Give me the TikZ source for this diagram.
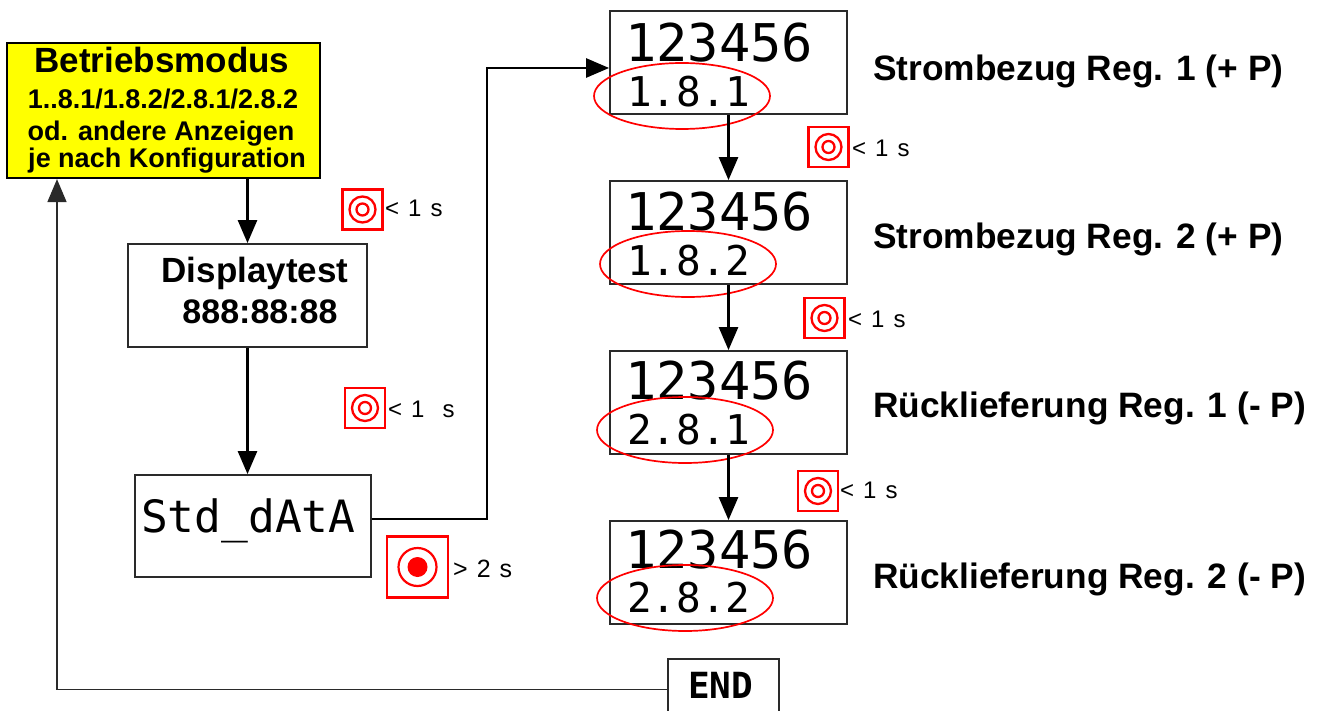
\documentclass[tikz,border=0pt]{standalone}
\usepackage{fontspec}
\setmainfont{Liberation Sans}
\newfontfamily\dmono{DejaVu Sans Mono}
\usetikzlibrary{arrows.meta,calc}
\definecolor{boxgray}{HTML}{2A2A2A}
\definecolor{ylw}{HTML}{FFFF00}
\newcommand{\gp}{\hspace{9pt}}
\begin{document}
\begin{tikzpicture}[x=1pt,y=-1pt,
  frame/.style={draw=boxgray, line width=1.8pt, rectangle, inner sep=0pt},
  txt/.style={inner sep=0pt, anchor=base},
  conn/.style={line width=2.6pt, draw=black},
  arr/.style={conn, -{Triangle[length=23pt,width=19pt]}},
  thinarr/.style={line width=1.6pt, draw=boxgray, -{Triangle[length=23pt,width=19pt]}},
  btn/.style={draw=red, line width=2.8pt, minimum size=40pt, inner sep=0pt,
    path picture={\draw[red,line width=2.3pt] (path picture bounding box.center) circle[radius=13pt] circle[radius=6pt];}},
  bigbtn/.style={draw=red, line width=2.8pt, minimum size=61pt, inner sep=0pt,
    path picture={\draw[red,line width=2.2pt] (path picture bounding box.center) circle[radius=19pt];
      \fill[red] (path picture bounding box.center) circle[radius=10pt];}},
  btntxt/.style={inner sep=0pt, anchor=base west, font=\fontsize{24}{28}\selectfont},
  lbl/.style={inner sep=0pt, anchor=base west, font=\fontsize{35.3}{40}\selectfont\bfseries},
  bigdig/.style={inner sep=0pt, anchor=base west, font=\fontsize{52}{56}\selectfont\dmono},
  smdig/.style={inner sep=0pt, anchor=base west, font=\fontsize{41}{46}\selectfont\dmono},
  oval/.style={draw=red, line width=1.7pt}
]
\useasboundingbox (0,0) rectangle (1324,711);

% Mode box
\node[draw=black, line width=2.2pt, fill=ylw, minimum width=313pt, minimum height=135pt, inner sep=0pt] (mode) at (163.5,110.5) {};
\node[txt, font=\fontsize{35}{40}\selectfont\bfseries] (m1) at (162,73) {Betriebsmodus};
\node[txt, font=\fontsize{27}{30}\selectfont\bfseries] (m2) at (163,109) {1..8.1/1.8.2/2.8.1/2.8.2};
\node[txt, font=\fontsize{27}{30}\selectfont\bfseries] (m3) at (161,141) {od. andere Anzeigen};
\node[txt, font=\fontsize{27}{30}\selectfont\bfseries] (m4) at (167,168) {je nach Konfiguration};

% Displaytest
\node[frame, minimum width=239pt, minimum height=103pt] (dt) at (247.5,295.5) {};
\node[txt, font=\fontsize{35}{40}\selectfont\bfseries] (dt1) at (255,282) {Displaytest};
\node[txt, font=\fontsize{34}{40}\selectfont\bfseries] (dt2) at (260,323) {888:88:88};

% Std_dAtA
\node[frame, minimum width=236pt, minimum height=102pt] (sd) at (253,526) {};
\node[inner sep=0pt, anchor=base west, font=\fontsize{44.5}{48}\selectfont\dmono] (sdt) at (141,532) {Std\_dAtA};

% display boxes
\foreach \i/\t/\lab/\da/\db/\ex/\ey in {1/11/1.8.1/51/96/682/85, 2/181/1.8.2/50/95/688/83, 3/351/2.8.1/48/93/685/79, 4/521/2.8.2/47/91/685/77}{
  \node[frame, minimum width=237pt, minimum height=103pt] (b\i) at (728.5,\t+51.5) {};
  \node[bigdig] (d\i) at (625,\t+\da) {123456};
  \node[smdig] (r\i) at (627,\t+\db) {\lab};
  \draw[oval] (\ex,\t+\ey) ellipse [x radius=88pt, y radius=33pt];
}

% right labels
\node[lbl] (l1) at (873,81) {Strombezug Reg. 1 (+ P)};
\node[lbl] (l2) at (873,249) {Strombezug Reg. 2 (+ P)};
\node[lbl] (l3) at (873,417) {Rücklieferung Reg. 1 (- P)};
\node[lbl] (l4) at (873,588) {Rücklieferung Reg. 2 (- P)};

% END
\node[frame, minimum width=111pt, minimum height=61pt] (end) at (723.5,689.5) {};
\node[inner sep=0pt, anchor=base west, font=\fontsize{36}{40}\selectfont\dmono\bfseries] (endt) at (688,698) {END};

% buttons
\node[btn] (k1) at (362.5,209.5) {};
\node[btntxt] (k1t) at (385,217) {<\gp 1\gp s};
\node[btn] (k2) at (365,408) {};
\node[btntxt] (k2t) at (388,417) {<\gp 1\gp\gp s};
\node[btn] (k3) at (828.5,147) {};
\node[btntxt] (k3t) at (852,157) {<\gp 1\gp s};
\node[btn] (k4) at (824.5,318) {};
\node[btntxt] (k4t) at (848,327) {<\gp 1\gp s};
\node[btn] (k5) at (818,491) {};
\node[btntxt] (k5t) at (840,498) {<\gp 1\gp s};
\node[bigbtn] (k6) at (417.5,567) {};
\node[btntxt, font=\fontsize{25}{28}\selectfont] (k6t) at (453,577) {>\gp 2\gp s};

% connectors
\coordinate (bend) at (487,68);
\coordinate (ret) at (57,689);
\draw[arr] (dt.north |- mode.south) -- (dt.north);
\draw[arr] (dt.south) -- (dt.south |- sd.north);
\draw[arr] ([yshift=7pt]sd.east) -| (bend) -- ([yshift=-5.5pt]b1.west);
\draw[arr] (b1.south) -- (b2.north);
\draw[arr] (b2.south) -- (b3.north);
\draw[arr] (b3.south) -- (b4.north);
\draw[thinarr] (end.west) -| (ret |- mode.south);
\end{tikzpicture}
\end{document}
